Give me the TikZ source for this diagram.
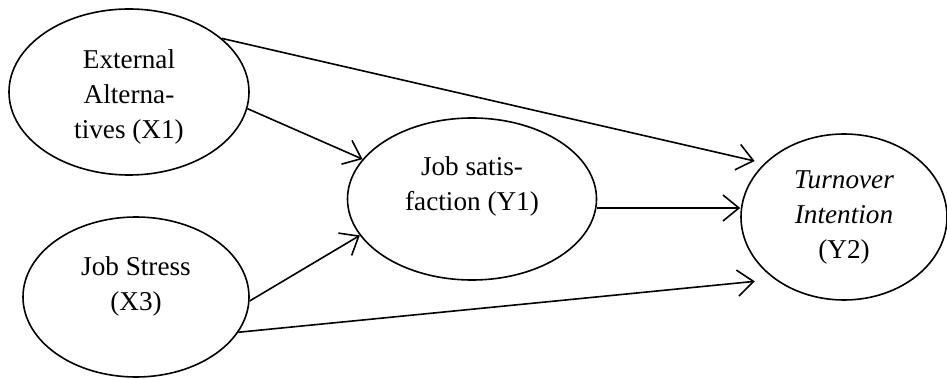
\documentclass[tikz,border=0pt]{standalone}
\usepackage{fontspec}
\setmainfont{Liberation Serif}
\usetikzlibrary{arrows.meta,shapes.geometric}

\begin{document}
\begin{tikzpicture}[x=1pt, y=1pt,
  var/.style={draw, ellipse, line width=0.8pt, inner sep=0pt},
  txt/.style={align=center, inner sep=0pt, font=\fontsize{13.6}{17.5}\selectfont},
  arr/.style={draw, line width=0.8pt, -{Straight Barb[length=8pt, width=13pt]}}]
\useasboundingbox (0,0) rectangle (473.5,-189.5);
% latent variables
\node[var, minimum width=120, minimum height=83] (x1) at (64.5,-46) {};
\node[var, minimum width=113, minimum height=80] (x3) at (68,-148.5) {};
\node[var, minimum width=124.5, minimum height=81] (y1) at (236,-99.5) {};
\node[var, minimum width=103, minimum height=83] (y2) at (422,-108.5) {};
% their texts
\node[txt] (x1t) at ([yshift=-2.5pt]x1.center) {External\\Alterna-\\tives (X1)};
\node[txt] (x3t) at ([yshift=5.5pt]x3.center) {Job Stress\\(X3)};
\node[txt] (y1t) at ([yshift=6.5pt]y1.center) {Job satis-\\faction (Y1)};
\node[txt] (y2t) at (y2.center) {\textit{Turnover}\\\textit{Intention}\\(Y2)};
% paths
\draw[arr, shorten >=5pt] (x1.30) -- (y2.146);
\draw[arr] (x1.-8) -- (y1.160);
\draw[arr] (x3.-2) -- (y1.198);
\draw[arr] ([yshift=-4.5pt]y1.east) -- ([yshift=4.5pt]y2.west);
\draw[arr, shorten >=10pt] (x3.-19) -- (y2.222);
\end{tikzpicture}
\end{document}
